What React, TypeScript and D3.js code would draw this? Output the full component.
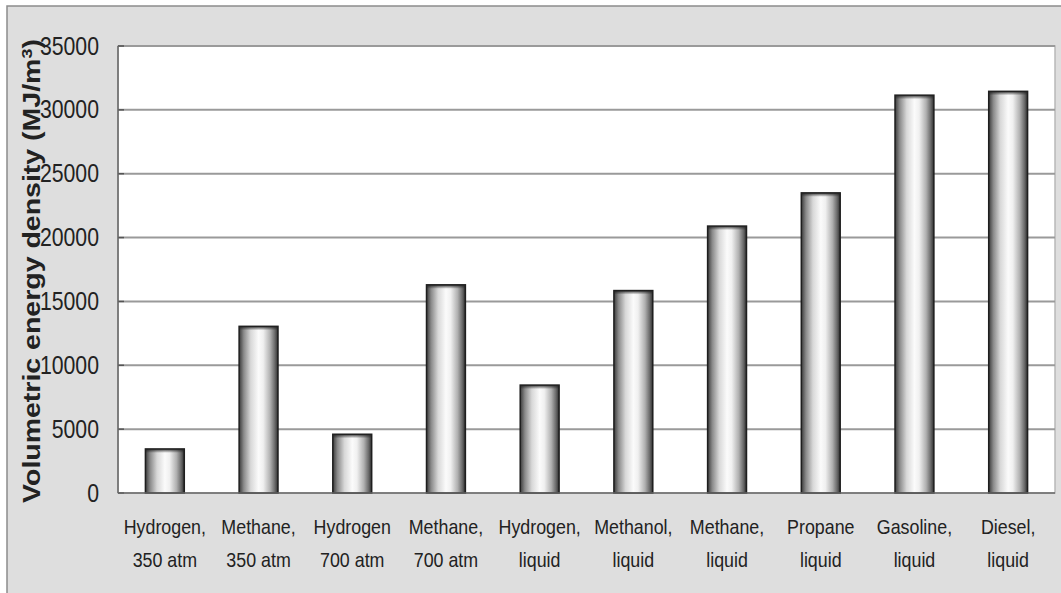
import React from "react";
import * as d3 from "d3";

const categories: string[][] = [
  ["Hydrogen,", "350 atm"],
  ["Methane,", "350 atm"],
  ["Hydrogen", "700 atm"],
  ["Methane,", "700 atm"],
  ["Hydrogen,", "liquid"],
  ["Methanol,", "liquid"],
  ["Methane,", "liquid"],
  ["Propane", "liquid"],
  ["Gasoline,", "liquid"],
  ["Diesel,", "liquid"],
];
const values: number[] = [3450, 13050, 4600, 16300, 8450, 15850, 20900, 23500, 31150, 31450];
const yTicks: number[] = [0, 5000, 10000, 15000, 20000, 25000, 30000, 35000];

const W = 1061;
const H = 593;
const M = { left: 118, top: 46, right: 1055, bottom: 493 };
const SX = 0.85;

export default function App() {
  const x = d3
    .scaleBand<number>()
    .domain(values.map((_, i) => i))
    .range([M.left, M.right])
    .paddingInner(0.585)
    .paddingOuter(0.2925);
  const y = d3.scaleLinear().domain([0, 35000]).range([M.bottom, M.top]);
  const font = "Arial, 'Liberation Sans', sans-serif";

  return (
    <svg
      width={W}
      height={H}
      style={{ position: "absolute", left: 0, top: 0 }}
      fontFamily={font}
    >
      <defs>
        <linearGradient id="cyl" x1="0" x2="1" y1="0" y2="0">
          <stop offset="0" stopColor="#3a3a3a" />
          <stop offset="0.12" stopColor="#8a8a8a" />
          <stop offset="0.3" stopColor="#d8d8d8" />
          <stop offset="0.5" stopColor="#fbfbfb" />
          <stop offset="0.62" stopColor="#f0f0f0" />
          <stop offset="0.8" stopColor="#b0b0b0" />
          <stop offset="0.92" stopColor="#6a6a6a" />
          <stop offset="1" stopColor="#2e2e2e" />
        </linearGradient>
        <linearGradient id="cap" x1="0" x2="0" y1="0" y2="1">
          <stop offset="0" stopColor="#222" stopOpacity="0.9" />
          <stop offset="1" stopColor="#222" stopOpacity="0" />
        </linearGradient>
      </defs>
      <rect x={0} y={0} width={W} height={H} fill="#ffffff" />
      <rect x={7} y={6} width={W} height={H} fill="#dedede" stroke="#8c8c8c" strokeWidth={1.5} />
      <rect
        x={M.left}
        y={M.top}
        width={M.right - M.left}
        height={M.bottom - M.top}
        fill="#ffffff"
        stroke="#b8b8b8"
        strokeWidth={1.5}
      />
      {yTicks.map((t) => (
        <g key={t}>
          {t > 0 && (
            <line x1={M.left} x2={M.right} y1={y(t)} y2={y(t)} stroke="#9a9a9a" strokeWidth={2} />
          )}
          <line x1={M.left} x2={M.left + 6} y1={y(t)} y2={y(t)} stroke="#555" strokeWidth={1.5} />
          <text
            transform={`translate(99,${y(t)}) scale(${SX},1)`}
            textAnchor="end"
            dominantBaseline="central"
            fontSize={25}
            fill="#222"
          >
            {t}
          </text>
        </g>
      ))}
      {values.map((v, i) => {
        const bx = x(i)!;
        const bw = x.bandwidth();
        const top = y(v);
        return (
          <g key={i}>
            <rect x={bx} y={top} width={bw} height={M.bottom - top} fill="url(#cyl)" stroke="#1e1e1e" strokeWidth={1.5} />
            <rect x={bx} y={top} width={bw} height={4} fill="url(#cap)" />
          </g>
        );
      })}
      <line x1={M.left} x2={M.left} y1={M.top} y2={M.bottom} stroke="#666" strokeWidth={1.5} />
      <line x1={M.left} x2={M.right} y1={M.bottom} y2={M.bottom} stroke="#666" strokeWidth={1.5} />
      {categories.map((c, i) => {
        const cx = x(i)! + x.bandwidth() / 2;
        return (
          <g key={i}>
            {c.map((line, j) => (
              <text
                key={j}
                transform={`translate(${cx},${534 + j * 33}) scale(${SX},1)`}
                textAnchor="middle"
                fontSize={21}
                fill="#222"
              >
                {line}
              </text>
            ))}
          </g>
        );
      })}
      <text
        transform={`translate(40,271) scale(${SX},1) rotate(-90)`}
        textAnchor="middle"
        fontSize={28.5}
        fontWeight="bold"
        fill="#222"
      >
        Volumetric energy density (MJ/m<tspan baselineShift="super" fontSize={18}>3</tspan>)
      </text>
    </svg>
  );
}
